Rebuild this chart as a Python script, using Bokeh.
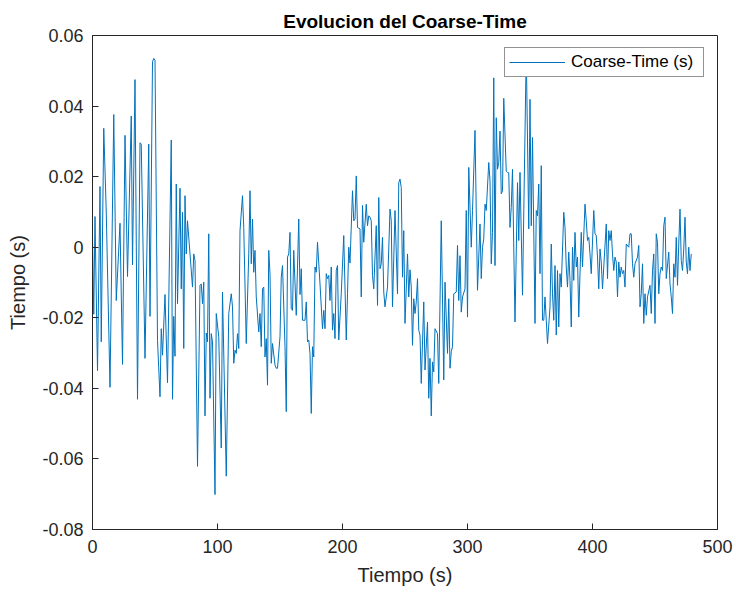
from bokeh.plotting import figure
from bokeh.models import Range1d, FixedTicker
from bokeh.embed import file_html
from bokeh.resources import INLINE

time_s = [0, 1, 2, 4, 6, 7, 9, 11, 14, 17, 19, 22, 24, 26, 28, 31, 32, 34, 36, 38, 39, 42, 45, 46,
          48, 49, 50, 52, 54, 55, 56, 58, 60, 63, 64, 65, 66, 67, 68, 70, 71, 72, 73, 74, 75, 76, 78,
          80, 81, 82, 84, 86, 87, 88, 89, 90, 91, 92, 93, 94, 95,
          96, 98, 99, 101, 103, 104, 107, 109, 111, 112, 113, 114, 115, 116, 117, 118, 120, 121, 123,
          125, 126, 127, 128, 129, 130, 131, 133, 134, 135, 136, 137, 138, 139, 140, 141, 142, 143,
          144, 146, 147, 148, 150, 151, 152, 154, 155, 156, 157, 158, 159, 160, 161, 163, 165, 166,
          167, 168, 170, 171, 172, 173, 174, 175, 176, 177, 178, 179, 180, 182, 184, 185, 186, 187,
          188, 189, 190, 191, 192,
          193, 194, 195, 196, 197, 199, 201, 203, 204, 205, 206, 208, 209, 210, 211, 212, 214, 215,
          216, 217, 219, 220, 221, 222, 223, 224, 225, 227, 228, 229, 230, 231, 232, 233, 234, 236,
          237, 238,
          239, 240, 242, 244, 245, 246, 247, 248, 249, 250, 252, 253, 254, 255, 256, 257, 258, 259,
          260, 261, 262, 263, 265, 266, 268, 269, 270, 271, 272, 273, 274, 276, 277, 279, 280, 281,
          282, 284, 285, 286,
          287, 288, 289, 291, 292, 293, 294, 295, 296, 298, 299, 300, 301, 303, 304, 306, 308, 310,
          311, 312, 313, 314, 315, 317, 318, 319, 320, 321, 322, 323, 324, 325, 326, 327, 328, 329,
          331, 332, 333, 334,
          335, 336, 338, 340, 341, 342, 344, 347, 349, 350, 351, 352, 354, 355, 356, 357, 358, 359,
          360, 361, 362, 364, 366, 367, 368, 369, 370, 371, 372, 373, 374, 375, 377, 378, 379, 380,
          381, 382, 383, 384,
          385, 386, 387, 388, 389, 390, 391, 392, 394, 395, 396, 397, 398, 399, 401, 402, 403, 404,
          405, 406, 407, 408, 409, 411, 412, 413, 414, 415, 416, 417, 418, 419, 420, 421, 422, 423,
          424, 425, 426, 427, 429, 430,
          431, 432, 433, 434, 436, 437, 438, 439, 440, 441, 442, 443, 444, 446, 447, 448, 449, 450,
          451, 452, 453, 454, 455, 456, 457, 458, 459, 461, 462, 463, 464, 465, 466, 467, 468, 469,
          470, 471, 472, 473, 474, 475, 476, 477, 478, 479]

coarse_time = [0.003, -0.019, 0.0087, -0.035, 0.0172, -0.0268, 0.0337, 0.010, -0.0397, 0.0376,
               -0.0151, 0.0068, -0.0332, 0.0317, -0.0083, 0.0372, -0.0050, 0.0475, -0.0431, 0.0296,
               0.0292, -0.0315, 0.0292, -0.0196,
               0.0525, 0.0535, 0.053, -0.0264, -0.0424, -0.0231, -0.0306, -0.0134, -0.0384, 0.0304,
               -0.0431, -0.0196, -0.0309, 0.0179, -0.016, 0.0167, -0.0118, 0.0099, -0.0287, 0.0146,
               -0.0019, 0.0075, -0.0019, -0.0113, -0.0019, -0.0038, -0.0621, -0.0108, -0.0104,
               -0.016, -0.0099, -0.0478, -0.0243, -0.0268, 0.0038, -0.0428, -0.0245,
               -0.0268, -0.0701, -0.0188, -0.0254, -0.0569, -0.0127, -0.0649, -0.0188, -0.0132,
               -0.0169, -0.0329, -0.0292, -0.0301, -0.0245, -0.0287, 0.0047, 0.0146, 0.0056,
               -0.0273, -0.0019, 0.016, -0.0047, 0.008, -0.0071, -0.0009, -0.0141, -0.024, -0.0188,
               -0.0282, -0.0118, -0.0113, -0.0311, -0.0259, -0.0391, -0.0009, -0.0075, -0.0329,
               -0.0273, -0.0334, -0.0343, -0.0343, -0.0254, -0.0085, -0.0052, -0.0282, -0.0466,
               -0.0028, -0.0019, 0.0042, -0.0174, -0.0179, -0.0009, -0.0193, 0.008, -0.0134,
               -0.0061, -0.0207, -0.0207, -0.0155, -0.0268, -0.0263, -0.0301, -0.0471, -0.0282,
               -0.0311, -0.0056, -0.0071, 0.0014, -0.0104, -0.0231, -0.0179, -0.0231, -0.0075,
               -0.0089, -0.008, -0.0151, -0.0056, -0.0235,
               -0.0188, -0.0259, -0.0066, -0.0052, -0.0263, -0.0132, 0.0033, -0.0263, -0.0132, 0.0,
               -0.0045, 0.016, 0.0075, 0.008, 0.0202, 0.0056, 0.0052, -0.0141, 0.0118, 0.0014,
               0.0122, 0.0061, 0.0089, 0.0085, 0.0075, -0.008, -0.0118, 0.0061, -0.0165, 0.0141,
               -0.0061, -0.0047, 0.0028, -0.0127, -0.0169, -0.0113, -0.0005, 0.0108,
               0.0075, -0.0169, 0.0104, -0.0132, 0.0183, 0.0193, 0.0169, -0.0085, 0.0047, -0.0216,
               -0.0019, -0.0141, -0.0064, -0.0113, -0.0278, -0.0146, -0.0188, -0.0155, -0.0089,
               -0.0235, -0.0249, -0.0386, -0.0155, -0.0348, -0.0212, -0.0428, -0.0315, -0.0478,
               -0.0325, -0.0353, -0.0231, -0.0245, -0.0386, 0.0075, -0.0146, -0.0376, -0.0099,
               -0.0301, -0.0146, -0.0343,
               -0.0296, -0.0282, -0.0132, -0.0127, 0.0005, -0.0151, -0.0024, -0.0184, -0.0141,
               -0.0118, 0.0104, -0.0198, 0.0226, 0.0, 0.0104, 0.0331, -0.0122, 0.0066, -0.0089, 0.0,
               0.0024, 0.0122, 0.0104, 0.024, 0.0188, -0.0047, 0.0042, 0.048, -0.0052, 0.0367,
               0.0221, 0.024, 0.0329, 0.0151, 0.016, 0.0422, 0.0215, 0.0212, 0.0211, 0.0056,
               0.0113, 0.0221, -0.0212, 0.0183, 0.0019, 0.0212, -0.0136, 0.0555, 0.0052, 0.0419,
               0.0061, 0.0311, -0.0216, 0.0104, 0.0089, 0.0179, -0.0075, 0.0231, -0.0207, -0.0207,
               -0.0141, -0.0273, -0.0169, 0.0009, -0.0132, -0.0207, -0.0052, -0.0249, -0.0066,
               -0.0226, -0.0075, -0.0113, 0.0099, 0.0056, -0.0056, -0.0113, -0.0014, -0.0094,
               -0.0226, 0.0,
               -0.0094, 0.0042, -0.0056, -0.0028, -0.0198, -0.0075, 0.0042, -0.0056, 0.0122, 0.0075,
               0.0019, 0.0028, -0.0019, -0.0075, 0.0104, 0.0038, 0.0033, -0.0028, -0.0118, -0.0005,
               -0.0042, -0.0118, -0.0056, 0.0066, -0.0089, 0.0047, 0.0019, 0.0047, -0.0019, -0.0066,
               -0.0028, -0.0042, -0.0141, -0.0042, -0.0085, -0.0056, -0.0075, -0.0066, -0.0113,
               0.0009, 0.0, 0.0038,
               0.0038, -0.0047, -0.0085, -0.0047, -0.0028, 0.0005, -0.0169, -0.0132, -0.0047,
               -0.0216, -0.0132, -0.0193, -0.0141, -0.0108, -0.0188, -0.0066, -0.0019, -0.0216,
               0.0038, 0.0014, -0.0132, -0.0075, -0.0056, -0.0066, 0.0061, 0.0085, -0.0089, -0.0014,
               -0.0104, -0.0141, -0.0188, -0.0047, -0.0085, 0.0028, -0.0108, 0.0009, 0.0108,
               -0.0038, -0.0066, -0.0005, 0.0085, -0.0042, -0.0075, 0.0, -0.0066, -0.0019]

x_ticks = [0, 100, 200, 300, 400, 500]
x_tick_labels = ["0", "100", "200", "300", "400", "500"]
y_ticks = [-0.08, -0.06, -0.04, -0.02, 0, 0.02, 0.04, 0.06]
y_tick_labels = ["-0.08", "-0.06", "-0.04", "-0.02", "0", "0.02", "0.04", "0.06"]

FONT = "Liberation Sans"
AX = "#262626"

p = figure(width=736, height=596, output_backend="svg", toolbar_location=None,
           x_range=Range1d(0, 500), y_range=Range1d(-0.08, 0.06),
           min_border_left=92, min_border_right=19, min_border_top=35, min_border_bottom=67,
           title="Evolucion del Coarse-Time")
p.background_fill_color = "white"
p.border_fill_color = "white"
p.outline_line_color = AX
p.outline_line_width = 1
p.xgrid.visible = False
p.ygrid.visible = False

p.title.align = "center"
p.title.text_font = FONT
p.title.text_font_size = "19px"
p.title.text_font_style = "bold"
p.title.text_color = "#000000"
p.title.standoff = 8

p.line(time_s, coarse_time, line_color="#0072BD", line_width=1, legend_label="Coarse-Time (s)")

def style(ax, ticks, labels):
    ax.ticker = FixedTicker(ticks=ticks)
    ax.major_label_overrides = {t: l for t, l in zip(ticks, labels)}
    ax.axis_line_color = AX
    ax.axis_line_width = 1
    ax.major_tick_line_color = AX
    ax.major_tick_in = 6
    ax.major_tick_out = 0
    ax.minor_tick_line_color = None
    ax.major_label_text_font = FONT
    ax.major_label_text_color = AX
    ax.major_label_text_font_size = "18px"

style(p.xaxis[0], x_ticks, x_tick_labels)
style(p.yaxis[0], y_ticks, y_tick_labels)
p.xaxis[0].major_label_standoff = 10
p.yaxis[0].major_label_standoff = 9
for ax, lab in ((p.xaxis[0], "Tiempo (s)"), (p.yaxis[0], "Tiempo (s)")):
    ax.axis_label = lab
    ax.axis_label_text_font = FONT
    ax.axis_label_text_font_size = "20px"
    ax.axis_label_text_font_style = "normal"
    ax.axis_label_text_color = AX
p.xaxis[0].axis_label_standoff = 8
p.yaxis[0].axis_label_standoff = 10

lg = p.legend[0]
lg.location = (412, 452)
lg.label_text_font = FONT
lg.label_text_font_size = "17px"
lg.label_text_color = "#000000"
lg.glyph_width = 56
lg.glyph_height = 18
lg.label_height = 18
lg.label_width = 128
lg.label_standoff = 6
lg.padding = 4
lg.spacing = 0
lg.margin = 0
lg.border_line_color = AX
lg.border_line_width = 1
lg.background_fill_color = "white"
lg.background_fill_alpha = 1.0

open("out.html", "w").write(file_html(p, INLINE))
